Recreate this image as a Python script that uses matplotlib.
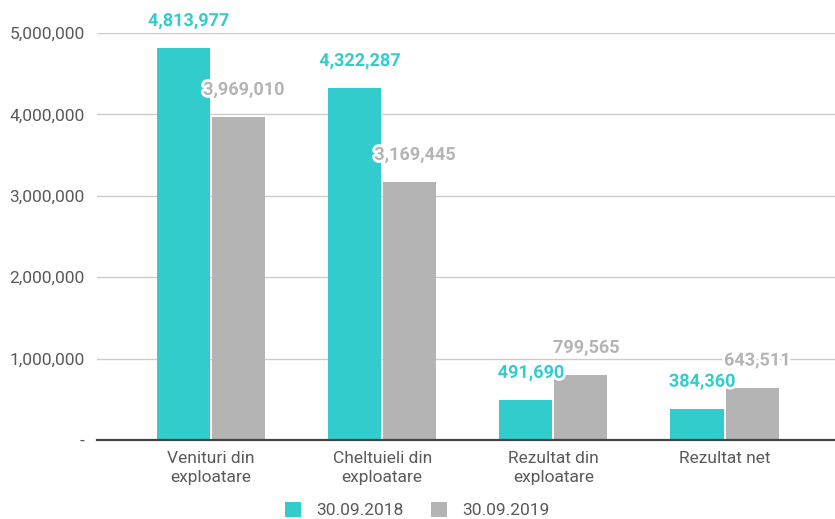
import matplotlib
matplotlib.use("Agg")
import matplotlib.pyplot as plt
import matplotlib.patheffects as pe
import numpy as np
from matplotlib.ticker import FuncFormatter

categories = ["Venituri din\nexploatare", "Cheltuieli din\nexploatare", "Rezultat din\nexploatare", "Rezultat net"]
series_names = ["30.09.2018", "30.09.2019"]
values_2018 = [4813977, 4322287, 491690, 384360]
values_2019 = [3969010, 3169445, 799565, 643511]
yticks = [0, 1000000, 2000000, 3000000, 4000000, 5000000]

teal = "#33CCCC"
gray = "#B4B4B4"

plt.rcParams['font.family'] = ['Roboto', 'DejaVu Sans']

fig = plt.figure(figsize=(8.35, 5.19), dpi=100)
ax = fig.add_axes([97/835, 1-440/519, 1-97/835, (440-33)/519])

x = np.arange(len(categories))
w = 0.31
off = 0.161
b1 = ax.bar(x - off, values_2018, w, color=teal, label=series_names[0], zorder=3)
b2 = ax.bar(x + off, values_2019, w, color=gray, label=series_names[1], zorder=3)

ax.set_xlim(-0.666, 3.645)
ax.set_ylim(0, 5000000)
ax.set_yticks(yticks)
ax.yaxis.set_major_formatter(FuncFormatter(lambda v, p: "-" if v == 0 else f"{int(v):,}"))
ax.set_xticks(x)
ax.set_xticklabels(categories, linespacing=1.3)
ax.tick_params(axis='y', length=0, pad=9, labelsize=12.5, labelcolor="#5a5a5a")
ax.tick_params(axis='x', length=0, pad=8, labelsize=12.5, labelcolor="#5a5a5a")
ax.grid(axis='y', color="#cccccc", linewidth=1, zorder=0)
for s in ["top", "right", "left"]:
    ax.spines[s].set_visible(False)
ax.spines["bottom"].set_color("#444444")
ax.spines["bottom"].set_linewidth(1.6)
ax.spines["bottom"].set_zorder(5)

stroke = [pe.withStroke(linewidth=4, foreground="white")]
for bars, vals, col in [(b1, values_2018, teal), (b2, values_2019, gray)]:
    for bar, v in zip(bars, vals):
        ax.annotate(f"{v:,}", xy=(bar.get_x() + bar.get_width()/2, v),
                    xytext=(3.6, 19.5), textcoords="offset points",
                    ha="center", va="center", fontsize=13, fontweight="bold",
                    color=col, path_effects=stroke, zorder=6, annotation_clip=False)

fig.legend(handles=[b1, b2], labels=series_names, loc="lower center",
           bbox_to_anchor=(0.5, -0.029), ncol=2, frameon=False, fontsize=12.5,
           labelcolor="#5a5a5a", handlelength=0.9, handleheight=0.9,
           handletextpad=0.9, columnspacing=1.6)

fig.savefig("out.png", dpi=100)
